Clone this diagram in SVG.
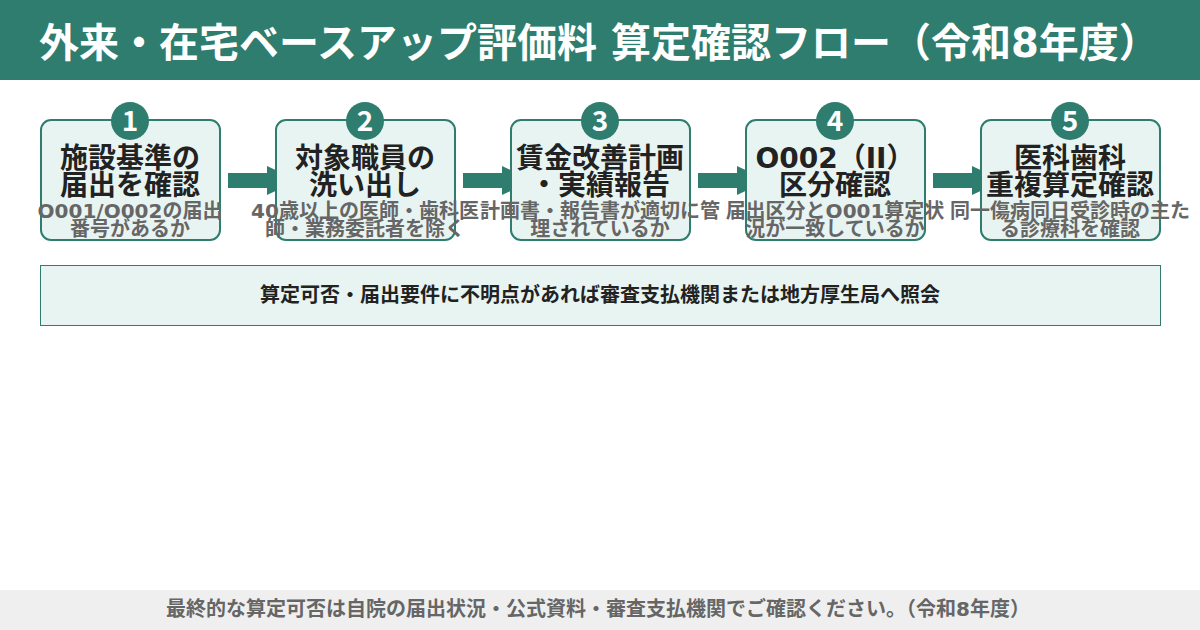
<svg xmlns="http://www.w3.org/2000/svg" width="1200" height="630" viewBox="0 0 1200 630">
<style>
text{font-family:"DejaVu Sans","Noto Sans CJK JP",sans-serif;font-weight:700;}
.title{font-size:40px;fill:#ffffff;}
.box{fill:#e8f4f1;stroke:#2e7d6e;stroke-width:2;}
.num{fill:#2e7d6e;}
.numt{font-family:"Noto Sans CJK JP","Noto Sans",sans-serif;font-size:28px;fill:#ffffff;text-anchor:middle;}
.bt{font-size:28px;fill:#222222;text-anchor:middle;}
.st{font-size:20px;fill:#666666;text-anchor:middle;}
.arrow{fill:#2e7d6e;}
.note{font-size:20px;fill:#222222;text-anchor:middle;}
.foot{font-size:20px;fill:#666666;text-anchor:middle;}
</style>
<rect x="0" y="0" width="1200" height="630" fill="#ffffff"/>
<g id="header">
<rect x="0" y="0" width="1200" height="80" fill="#2e7d6e"/>
<text class="title" x="39" y="57">外来・在宅ベースアップ評価料 算定確認フロー（令和8年度）</text>
</g>
<g id="connectors">
<polygon class="arrow" points="228,173 267,173 267,166 298,180.5 267,195 267,188 228,188"/>
<polygon class="arrow" points="463,173 502,173 502,166 533,180.5 502,195 502,188 463,188"/>
<polygon class="arrow" points="698,173 737,173 737,166 768,180.5 737,195 737,188 698,188"/>
<polygon class="arrow" points="933,173 972,173 972,166 1003,180.5 972,195 972,188 933,188"/>
</g>
<g id="step1">
<rect class="box" x="41" y="120" width="179" height="120" rx="10"/>
<circle class="num" cx="130" cy="121" r="19"/>
<text class="numt" x="130" y="131">1</text>
<text class="bt" x="130" y="168">施設基準の</text>
<text class="bt" x="130" y="195">届出を確認</text>
<text class="st" x="130" y="218">O001/O002の届出</text>
<text class="st" x="130" y="236">番号があるか</text>
</g>
<g id="step2">
<rect class="box" x="276" y="120" width="179" height="120" rx="10"/>
<circle class="num" cx="365" cy="121" r="19"/>
<text class="numt" x="365" y="131">2</text>
<text class="bt" x="365" y="168">対象職員の</text>
<text class="bt" x="365" y="195">洗い出し</text>
<text class="st" x="365" y="218">40歳以上の医師・歯科医</text>
<text class="st" x="365" y="236">師・業務委託者を除く</text>
</g>
<g id="step3">
<rect class="box" x="511" y="120" width="179" height="120" rx="10"/>
<circle class="num" cx="600" cy="121" r="19"/>
<text class="numt" x="600" y="131">3</text>
<text class="bt" x="600" y="168">賃金改善計画</text>
<text class="bt" x="600" y="195">・実績報告</text>
<text class="st" x="600" y="218">計画書・報告書が適切に管</text>
<text class="st" x="600" y="236">理されているか</text>
</g>
<g id="step4">
<rect class="box" x="746" y="120" width="179" height="120" rx="10"/>
<circle class="num" cx="835" cy="121" r="19"/>
<text class="numt" x="835" y="131">4</text>
<text class="bt" x="835" y="168">O002（II）</text>
<text class="bt" x="835" y="195">区分確認</text>
<text class="st" x="835" y="218">届出区分とO001算定状</text>
<text class="st" x="835" y="236">況が一致しているか</text>
</g>
<g id="step5">
<rect class="box" x="981" y="120" width="179" height="120" rx="10"/>
<circle class="num" cx="1070" cy="121" r="19"/>
<text class="numt" x="1070" y="131">5</text>
<text class="bt" x="1070" y="168">医科歯科</text>
<text class="bt" x="1070" y="195">重複算定確認</text>
<text class="st" x="1070" y="218">同一傷病同日受診時の主た</text>
<text class="st" x="1070" y="236">る診療科を確認</text>
</g>
<g id="notice">
<rect x="40.5" y="265.5" width="1120" height="60" fill="#e8f4f1" stroke="#2e7d6e" stroke-width="1"/>
<text class="note" x="600" y="302">算定可否・届出要件に不明点があれば審査支払機関または地方厚生局へ照会</text>
</g>
<g id="footer">
<rect x="0" y="590" width="1200" height="40" fill="#efefef"/>
<text class="foot" x="598" y="616">最終的な算定可否は自院の届出状況・公式資料・審査支払機関でご確認ください。（令和8年度）</text>
</g>
</svg>
